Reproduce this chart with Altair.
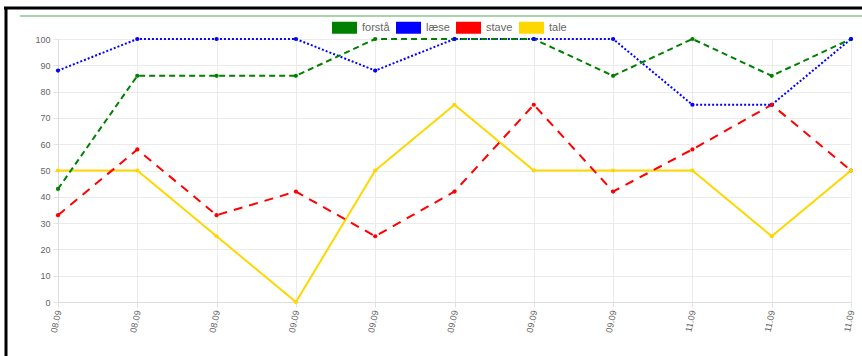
import json
import altair as alt
import pandas as pd

# ---- data ----
labels = ["08.09", "08.09", "08.09", "09.09", "09.09", "09.09", "09.09",
          "09.09", "11.09", "11.09", "11.09"]
series = ["forstå", "læse", "stave", "tale"]
forsta = [43, 86, 86, 86, 100, 100, 100, 86, 100, 86, 100]
laese = [88, 100, 100, 100, 88, 100, 100, 100, 75, 75, 100]
stave = [33, 58, 33, 42, 25, 42, 75, 42, 58, 75, 50]
tale = [50, 50, 25, 0, 50, 75, 50, 50, 50, 25, 50]
y_ticks = [0, 10, 20, 30, 40, 50, 60, 70, 80, 90, 100]

# ---- styles ----
colors = ["#008000", "#0000ff", "#ff0000", "#ffd700"]
dashes = [[6, 4], [2, 2], [9, 7], [1, 0]]
FONT = "Liberation Sans"

rows = []
for name, vals in zip(series, [forsta, laese, stave, tale]):
    for i, v in enumerate(vals):
        rows.append({"idx": i, "series": name, "value": v})
df = pd.DataFrame(rows)

label_expr = json.dumps(labels) + "[datum.value]"

x_enc = alt.X(
    "idx:O",
    scale=alt.Scale(type="point", padding=0),
    axis=alt.Axis(
        title=None,
        labelExpr=label_expr,
        labelAngle=-78,
        labelAlign="right",
        labelBaseline="middle",
        labelPadding=3,
        labelFontSize=9,
        labelColor="#666666",
        labelFont=FONT,
        labelOverlap=False,
        labelBound=False,
        tickSize=5,
        tickColor="#e3e3e3",
        domainColor="#dcdcdc",
        grid=True,
        gridColor="#ebebeb",
    ),
)
y_enc = alt.Y(
    "value:Q",
    scale=alt.Scale(domain=[0, 100], nice=False, zero=True),
    axis=alt.Axis(
        title=None,
        values=y_ticks,
        labelFontSize=9,
        labelColor="#666666",
        labelFont=FONT,
        labelPadding=3,
        tickSize=5,
        tickColor="#e3e3e3",
        domainColor="#dcdcdc",
        grid=True,
        gridColor="#ebebeb",
    ),
)

base = alt.Chart(df)

line_layers = []
for name, col, dash in zip(series, colors, dashes):
    line_layers.append(
        base.transform_filter(alt.datum.series == name)
        .mark_line(strokeWidth=2, color=col, strokeDash=dash)
        .encode(x=x_enc, y=y_enc)
    )

points = base.mark_circle(size=18, opacity=1).encode(
    x=x_enc,
    y=y_enc,
    color=alt.Color(
        "series:N",
        scale=alt.Scale(domain=series, range=colors),
        legend=alt.Legend(
            title=None,
            orient="none",
            legendX=274,
            legendY=-24,
            direction="horizontal",
            symbolType="M-1,-0.48H1V0.48H-1Z",
            symbolSize=625,
            symbolStrokeWidth=0,
            symbolOpacity=1,
            labelFontSize=11,
            labelColor="#666666",
            labelFont=FONT,
            labelOffset=5,
            columnPadding=6,
        ),
    ),
)

frame_df = pd.DataFrame({"k": [0]})
top_line = alt.Chart(frame_df).mark_rule(color="black", strokeWidth=3).encode(
    x=alt.value(-54), x2=alt.value(806), y=alt.value(-31)
)
left_line = alt.Chart(frame_df).mark_rule(color="black", strokeWidth=3).encode(
    x=alt.value(-52), y=alt.value(-32), y2=alt.value(320)
)
green_line = alt.Chart(frame_df).mark_rule(color="#8cc68c", strokeWidth=1.5).encode(
    x=alt.value(-38), x2=alt.value(806), y=alt.value(-23)
)

chart = (
    alt.layer(top_line, left_line, green_line, *line_layers[::-1], points)
    .properties(
        width=793,
        height=263,
        padding={"left": 58, "top": 39, "right": 11, "bottom": 54},
        autosize=alt.AutoSizeParams(type="none"),
        background="white",
    )
    .configure_view(stroke=None)
)

chart.save("out.html", embed_options={"renderer": "svg", "actions": False})
